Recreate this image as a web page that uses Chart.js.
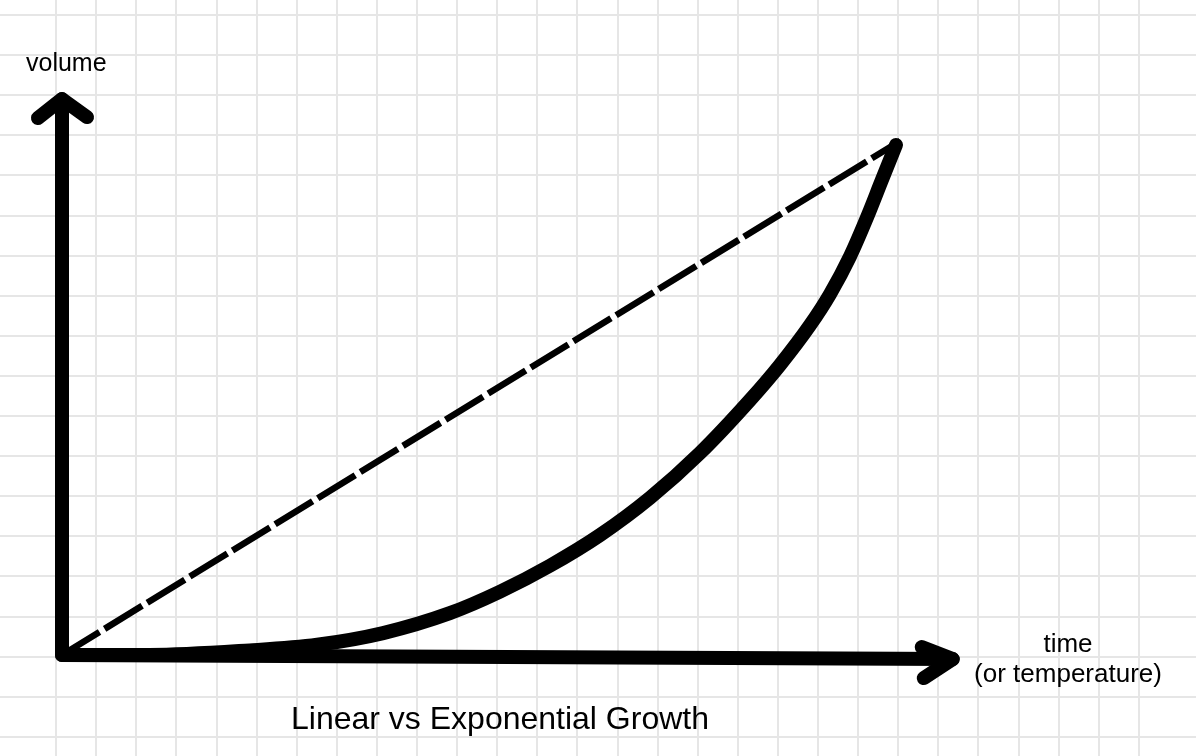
<!DOCTYPE html>
<html>
<head>
<meta charset="utf-8">
<script src="https://cdn.jsdelivr.net/npm/chart.js@4/dist/chart.umd.min.js"></script>
<style>
  html, body { margin: 0; padding: 0; background: #ffffff; }
  #wrap { width: 1196px; height: 756px; }
  canvas { display: block; }
</style>
</head>
<body>
<div id="wrap"><canvas id="c" width="1196" height="756"></canvas></div>
<script>
// ---- data ----
const timeValues        = [0, 1.05, 2.25, 3.06, 3.85, 4.65, 5.25, 5.85, 6.45, 7.05, 7.65, 8.25, 8.61, 8.97, 9.21, 9.45, 9.65, 9.83, 10];
const exponentialVolume = [0, 0, 0.09, 0.20, 0.43, 0.82, 1.24, 1.75, 2.35, 3.08, 3.96, 5.00, 5.69, 6.47, 7.08, 7.82, 8.57, 9.31, 10];
const linearTime        = [0, 10.05];
const linearVolume      = [0, 10.08];
const yAxisLabel  = 'volume';
const xAxisLabel  = ['time', '(or temperature)'];
const chartTitle  = 'Linear vs Exponential Growth';
const xAxisEnd = 10.68;   // x-axis arrow tip (time units)
const xAxisEndY = -0.08;
const yAxisEnd = 10.9;    // y-axis arrow tip (volume units)

const toPoints = (xs, ys) => xs.map((x, i) => ({ x: x, y: ys[i] }));

const FONT = '"Liberation Sans", Arial, Helvetica, sans-serif';

const axesPlugin = {
  id: 'handAxes',
  beforeDatasetsDraw(chart) {
    const ctx = chart.ctx, xs = chart.scales.x, ys = chart.scales.y;
    const ox = xs.getPixelForValue(0), oy = ys.getPixelForValue(0);
    const yTip = ys.getPixelForValue(yAxisEnd);
    const xTipX = xs.getPixelForValue(xAxisEnd), xTipY = ys.getPixelForValue(xAxisEndY);
    ctx.save();
    ctx.strokeStyle = '#000';
    ctx.lineWidth = 14;
    ctx.lineCap = 'round';
    ctx.lineJoin = 'round';
    // axes
    ctx.beginPath();
    ctx.moveTo(ox, yTip);
    ctx.lineTo(ox, oy);
    ctx.lineTo(xTipX, xTipY);
    ctx.stroke();
    // y arrow head
    ctx.beginPath();
    ctx.moveTo(ox - 24, yTip + 19);
    ctx.lineTo(ox, yTip);
    ctx.lineTo(ox + 25, yTip + 18);
    ctx.stroke();
    // x arrow head
    ctx.beginPath();
    ctx.moveTo(xTipX - 31, xTipY - 12);
    ctx.lineTo(xTipX, xTipY);
    ctx.lineTo(xTipX - 29, xTipY + 19);
    ctx.stroke();
    ctx.restore();
  }
};

const textPlugin = {
  id: 'handText',
  afterDraw(chart) {
    const ctx = chart.ctx;
    ctx.save();
    ctx.fillStyle = '#000';
    ctx.textBaseline = 'alphabetic';
    ctx.font = '25px ' + FONT;
    ctx.textAlign = 'left';
    ctx.fillText(yAxisLabel, 26, 71);
    ctx.font = '26px ' + FONT;
    ctx.textAlign = 'center';
    ctx.fillText(xAxisLabel[0], 1068, 652);
    ctx.fillText(xAxisLabel[1], 1068, 682);
    ctx.font = '32px ' + FONT;
    ctx.fillText(chartTitle, 500, 729);
    ctx.restore();
  }
};

const GRID = 40.1;
const W = 1196, H = 756;
const onlyIntegers = s => { s.ticks = s.ticks.filter(t => Math.abs(t.value - Math.round(t.value)) < 1e-6); };

new Chart(document.getElementById('c'), {
  type: 'line',
  data: {
    datasets: [
      {
        label: 'Exponential',
        data: toPoints(timeValues, exponentialVolume),
        borderColor: '#000',
        borderWidth: 14,
        borderCapStyle: 'round',
        borderJoinStyle: 'round',
        cubicInterpolationMode: 'monotone',
        pointRadius: 0,
        fill: false
      },
      {
        label: 'Linear',
        data: toPoints(linearTime, linearVolume),
        borderColor: '#000',
        borderWidth: 6.5,
        borderDash: [44, 6],
        borderCapStyle: 'butt',
        pointRadius: 0,
        fill: false
      }
    ]
  },
  options: {
    responsive: false,
    animation: false,
    devicePixelRatio: 1,
    layout: { padding: 0 },
    plugins: { legend: { display: false }, tooltip: { enabled: false }, title: { display: false } },
    scales: {
      x: { type: 'linear', display: false, min: -62 / 83.4, max: (W - 62) / 83.4 },
      y: { type: 'linear', display: false, max: 655 / 51, min: 655 / 51 - H / 51 },
      gx: {
        type: 'linear', position: 'bottom', axis: 'x',
        min: -16 / GRID, max: (W - 16) / GRID,
        ticks: { display: false, stepSize: 1 },
        grid: { color: '#e6e6e6', lineWidth: 2, drawTicks: false },
        border: { display: false },
        afterBuildTicks: onlyIntegers
      },
      gy: {
        type: 'linear', position: 'left', axis: 'y', reverse: true,
        min: -15 / GRID, max: (H - 15) / GRID,
        ticks: { display: false, stepSize: 1 },
        grid: { color: '#e6e6e6', lineWidth: 2, drawTicks: false },
        border: { display: false },
        afterBuildTicks: onlyIntegers
      }
    }
  },
  plugins: [axesPlugin, textPlugin]
});
</script>
</body>
</html>
